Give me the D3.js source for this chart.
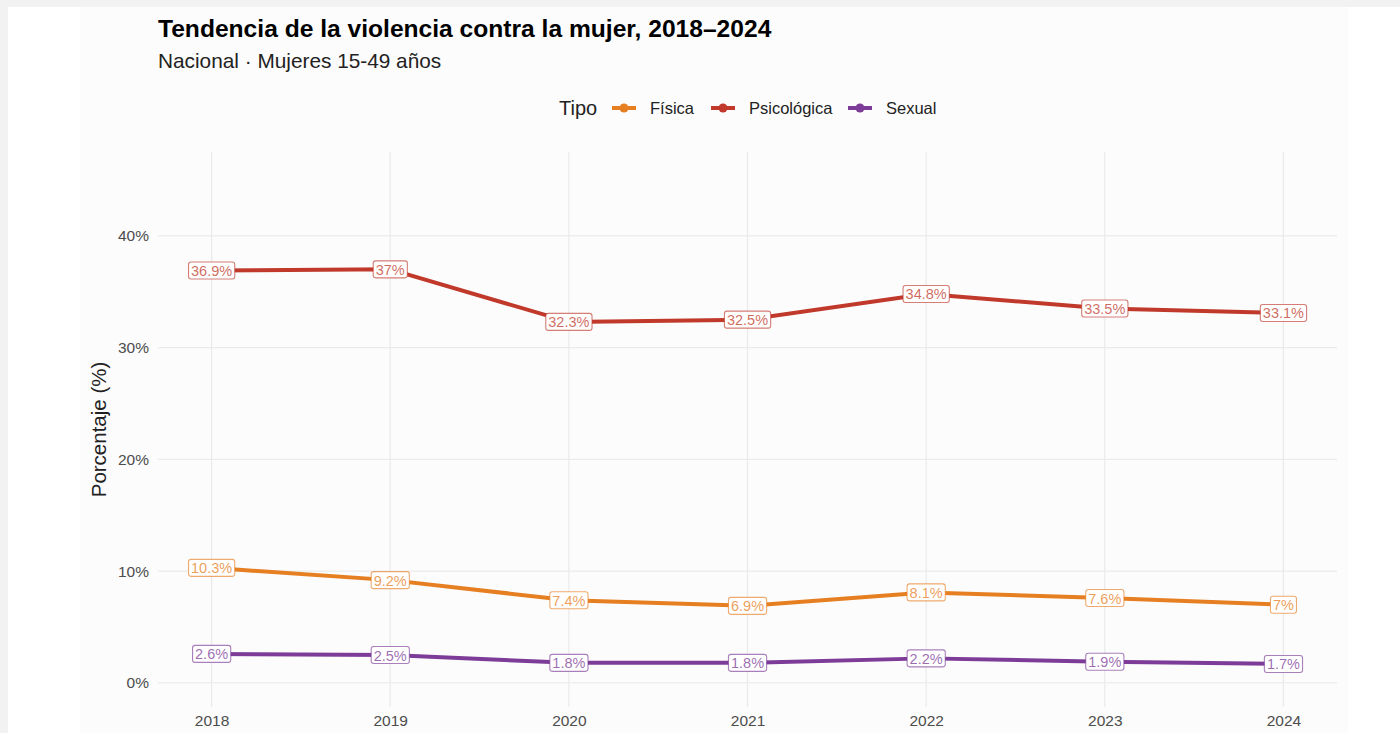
<!DOCTYPE html>
<html>
<head>
<meta charset="utf-8">
<script src="https://cdn.jsdelivr.net/npm/d3@7"></script>
<style>
  html, body { margin: 0; padding: 0; background: #f2f2f2; }
  svg { display: block; font-family: "Liberation Sans", Arial, sans-serif; }
</style>
</head>
<body>
<svg id="chart" width="1400" height="733"></svg>
<script>
// ---- Data ----
const years = [2018, 2019, 2020, 2021, 2022, 2023, 2024];
const seriesNames = ["Física", "Psicológica", "Sexual"];
const fisica = [10.3, 9.2, 7.4, 6.9, 8.1, 7.6, 7.0];
const psicologica = [36.9, 37.0, 32.3, 32.5, 34.8, 33.5, 33.1];
const sexual = [2.6, 2.5, 1.8, 1.8, 2.2, 1.9, 1.7];
const seriesColors = ["#E67E22", "#C0392B", "#7D3C98"];
const yTicks = [0, 10, 20, 30, 40];

const titleText = "Tendencia de la violencia contra la mujer, 2018–2024";
const subtitleText = "Nacional · Mujeres 15-49 años";
const yTitle = "Porcentaje (%)";
const legendTitle = "Tipo";

const series = [
  { name: seriesNames[0], values: fisica, color: seriesColors[0] },
  { name: seriesNames[1], values: psicologica, color: seriesColors[1] },
  { name: seriesNames[2], values: sexual, color: seriesColors[2] }
];

const svg = d3.select("#chart");

// backgrounds
svg.append("rect").attr("x", 0).attr("y", 0).attr("width", 1400).attr("height", 733).attr("fill", "#f2f2f2");
svg.append("rect").attr("x", 8).attr("y", 7).attr("width", 1392).attr("height", 726).attr("fill", "#ffffff");
svg.append("rect").attr("x", 80).attr("y", 7).attr("width", 1268).attr("height", 726).attr("fill", "#fcfcfc");

const x = d3.scaleLinear().domain([2017.7, 2024.3]).range([158, 1337]);
const y = d3.scaleLinear().domain([-2.15, 47.5]).range([707, 152]);

// grid
const grid = svg.append("g");
grid.selectAll(".hg").data(yTicks).join("line")
  .attr("x1", 158).attr("x2", 1337)
  .attr("y1", d => y(d)).attr("y2", d => y(d))
  .attr("stroke", "#ebebeb").attr("stroke-width", 1.3);
grid.selectAll(".vg").data(years).join("line")
  .attr("x1", d => x(d)).attr("x2", d => x(d))
  .attr("y1", 152).attr("y2", 707)
  .attr("stroke", "#ebebeb").attr("stroke-width", 1.3);

// axes
const yAxis = svg.append("g").attr("transform", "translate(158,0)")
  .call(d3.axisLeft(y).tickValues(yTicks).tickFormat(d => d + "%").tickSize(0).tickPadding(9));
yAxis.select(".domain").remove();
yAxis.selectAll("text").attr("font-size", 15.5).attr("fill", "#4d4d4d")
  .attr("font-family", "Liberation Sans, Arial, sans-serif");

const xAxis = svg.append("g").attr("transform", "translate(0,707)")
  .call(d3.axisBottom(x).tickValues(years).tickFormat(d3.format("d")).tickSize(0).tickPadding(8));
xAxis.select(".domain").remove();
xAxis.selectAll("text").attr("font-size", 15.5).attr("fill", "#4d4d4d")
  .attr("font-family", "Liberation Sans, Arial, sans-serif");

// lines
const line = d3.line().x((d, i) => x(years[i])).y(d => y(d));
svg.append("g").selectAll("path").data(series).join("path")
  .attr("d", s => line(s.values))
  .attr("fill", "none")
  .attr("stroke", s => s.color)
  .attr("stroke-width", 4)
  .attr("stroke-linejoin", "round")
  .attr("stroke-linecap", "butt");

// points
series.forEach(s => {
  svg.append("g").selectAll("circle").data(s.values).join("circle")
    .attr("cx", (d, i) => x(years[i])).attr("cy", d => y(d)).attr("r", 3.5)
    .attr("fill", s.color);
});

// labels
const fmt = v => (Math.round(v * 10) / 10).toString() + "%";
series.forEach(s => {
  const g = svg.append("g");
  s.values.forEach((v, i) => {
    const cx = x(years[i]), cy = y(v);
    const lg = g.append("g");
    const t = lg.append("text")
      .attr("x", cx).attr("y", cy + 0.5)
      .attr("text-anchor", "middle").attr("dominant-baseline", "central")
      .attr("font-size", 14.5)
      .attr("fill", s.color).attr("fill-opacity", 0.75)
      .text(fmt(v));
    const bb = t.node().getBBox();
    lg.insert("rect", "text")
      .attr("x", bb.x - 2.5).attr("y", cy - 8.5)
      .attr("width", bb.width + 5).attr("height", 17)
      .attr("rx", 2.5).attr("ry", 2.5)
      .attr("fill", "#ffffff")
      .attr("stroke", s.color).attr("stroke-opacity", 0.65).attr("stroke-width", 1.1);
  });
});

// titles
svg.append("text").attr("x", 158).attr("y", 37)
  .attr("font-size", 24.6).attr("font-weight", "bold").attr("fill", "#000")
  .text(titleText);
svg.append("text").attr("x", 158).attr("y", 68)
  .attr("font-size", 20.8).attr("fill", "#222")
  .text(subtitleText);

// y title
svg.append("text")
  .attr("transform", "translate(106," + ((152 + 707) / 2) + ") rotate(-90)")
  .attr("text-anchor", "middle")
  .attr("font-size", 20.5).attr("fill", "#222")
  .text(yTitle);

// legend
const leg = svg.append("g");
const legY = 108;
leg.append("text").attr("x", 559).attr("y", legY).attr("dominant-baseline", "central")
  .attr("font-size", 20).attr("fill", "#222").text(legendTitle);
const keyX = [612, 711, 848];
series.forEach((s, i) => {
  const kx = keyX[i];
  leg.append("line").attr("x1", kx).attr("x2", kx + 24).attr("y1", legY).attr("y2", legY)
    .attr("stroke", s.color).attr("stroke-width", 4);
  leg.append("circle").attr("cx", kx + 12).attr("cy", legY).attr("r", 4.5).attr("fill", s.color);
  leg.append("text").attr("x", kx + 38).attr("y", legY).attr("dominant-baseline", "central")
    .attr("font-size", 16.5).attr("fill", "#222").text(s.name);
});
</script>
</body>
</html>
